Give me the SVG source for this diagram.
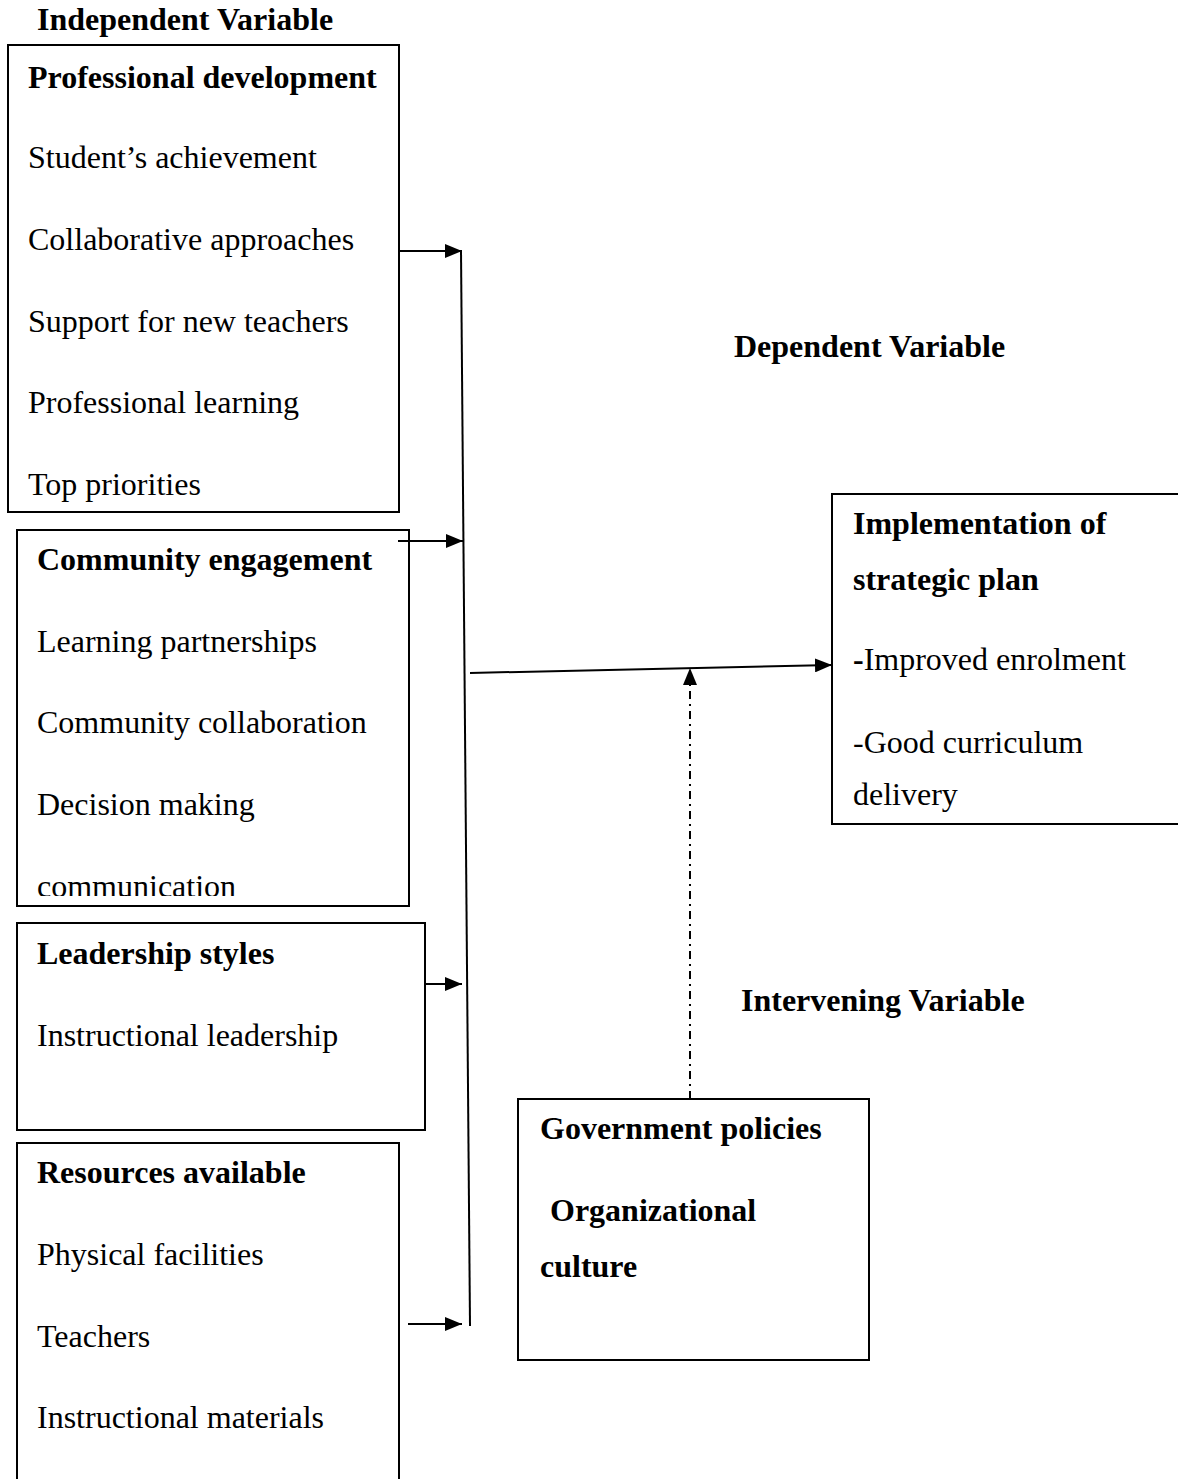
<svg xmlns="http://www.w3.org/2000/svg" width="1178" height="1479" viewBox="0 0 1178 1479">
<style>
.box{fill:none;stroke:#000;stroke-width:2}
.t{font-family:"Liberation Serif","Times New Roman",serif;font-size:32px;fill:#000}
.b{font-weight:bold}
.ln{fill:none;stroke:#000;stroke-width:2}
</style>
<defs>
<marker id="ah" viewBox="0 0 17 14" refX="17" refY="7" markerWidth="17" markerHeight="14" markerUnits="userSpaceOnUse" orient="auto">
<path d="M0,0 L17,7 L0,14 z" fill="#000"/>
</marker>
<clipPath id="c2"><rect x="17" y="530" width="392" height="366"/></clipPath>
</defs>
<rect width="1178" height="1479" fill="#fff"/>
<text class="t b" x="37" y="30">Independent Variable</text>
<text class="t b" x="734" y="357">Dependent Variable</text>
<text class="t b" x="741" y="1011">Intervening Variable</text>
<g id="professional-development">
<rect class="box" x="8" y="45" width="391" height="467"/>
<text class="t b" x="28" y="88">Professional development</text>
<text class="t" x="28" y="168">Student’s achievement</text>
<text class="t" x="28" y="250">Collaborative approaches</text>
<text class="t" x="28" y="332">Support for new teachers</text>
<text class="t" x="28" y="413">Professional learning</text>
<text class="t" x="28" y="495">Top priorities</text>
</g>
<g id="community-engagement">
<rect class="box" x="17" y="530" width="392" height="376"/>
<text class="t b" x="37" y="570">Community engagement</text>
<text class="t" x="37" y="652">Learning partnerships</text>
<text class="t" x="37" y="733">Community collaboration</text>
<text class="t" x="37" y="815">Decision making</text>
<text class="t" x="37" y="897" clip-path="url(#c2)">communication</text>
</g>
<g id="leadership-styles">
<rect class="box" x="17" y="923" width="408" height="207"/>
<text class="t b" x="37" y="964">Leadership styles</text>
<text class="t" x="37" y="1046">Instructional leadership</text>
</g>
<g id="resources-available">
<rect class="box" x="17" y="1143" width="382" height="400"/>
<text class="t b" x="37" y="1183">Resources available</text>
<text class="t" x="37" y="1265">Physical facilities</text>
<text class="t" x="37" y="1347">Teachers</text>
<text class="t" x="37" y="1428">Instructional materials</text>
</g>
<g id="implementation">
<rect class="box" x="832" y="494" width="360" height="330"/>
<text class="t b" x="853" y="534">Implementation of</text>
<text class="t b" x="853" y="590">strategic plan</text>
<text class="t" x="853" y="670"><tspan class="b">-</tspan>Improved enrolment</text>
<text class="t" x="853" y="753">-Good curriculum</text>
<text class="t" x="853" y="805">delivery</text>
</g>
<g id="intervening">
<rect class="box" x="518" y="1099" width="351" height="261"/>
<text class="t b" x="540" y="1139">Government policies</text>
<text class="t b" x="550" y="1221">Organizational</text>
<text class="t b" x="540" y="1277">culture</text>
</g>
<g id="connectors">
<line class="ln" x1="399" y1="251" x2="462" y2="251" marker-end="url(#ah)"/>
<line class="ln" x1="398" y1="541" x2="463" y2="541" marker-end="url(#ah)"/>
<line class="ln" x1="425" y1="984" x2="462" y2="984" marker-end="url(#ah)"/>
<line class="ln" x1="408" y1="1324" x2="462" y2="1324" marker-end="url(#ah)"/>
<line class="ln" x1="461" y1="251" x2="470" y2="1326"/>
<line class="ln" x1="470" y1="673" x2="832" y2="665" marker-end="url(#ah)"/>
<line class="ln" x1="690" y1="1099" x2="690" y2="668" stroke-dasharray="8 5 2 5" marker-end="url(#ah)"/>
</g>
</svg>
